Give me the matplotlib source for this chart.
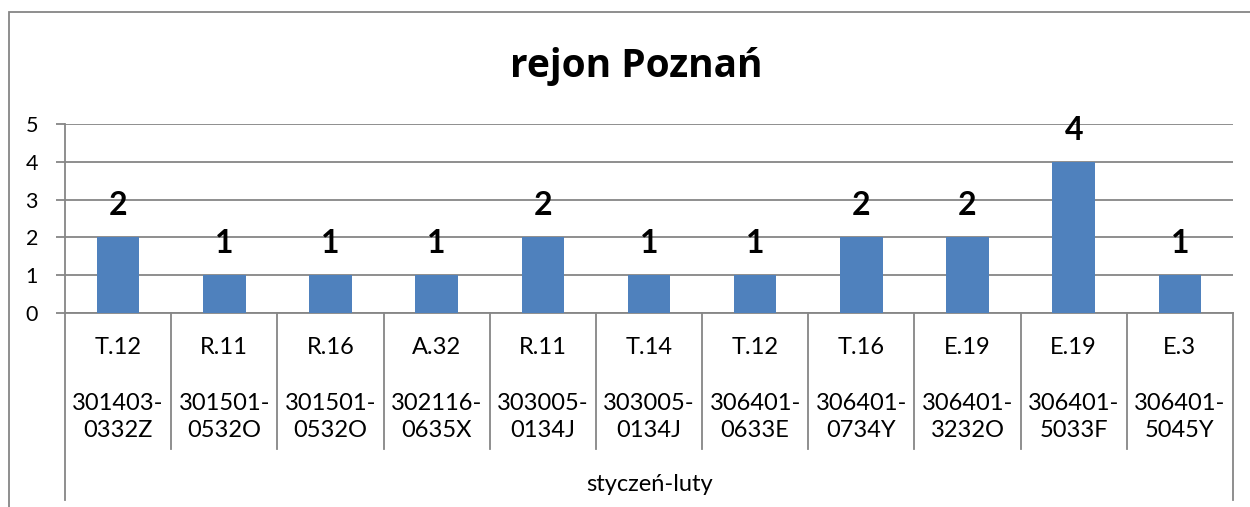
import matplotlib.pyplot as plt
from matplotlib.patches import Rectangle

plt.rcParams['font.family'] = ['Lato', 'DejaVu Sans']

# data
codes = ["T.12", "R.11", "R.16", "A.32", "R.11", "T.14", "T.12", "T.16", "E.19", "E.19", "E.3"]
ids = ["301403-\n0332Z", "301501-\n0532O", "301501-\n0532O", "302116-\n0635X", "303005-\n0134J",
       "303005-\n0134J", "306401-\n0633E", "306401-\n0734Y", "306401-\n3232O", "306401-\n5033F",
       "306401-\n5045Y"]
values = [2, 1, 1, 1, 2, 1, 1, 2, 2, 4, 1]
period = "styczeń-luty"
title = "rejon Poznań"

W, H = 1250, 507
fig = plt.figure(figsize=(W / 100, H / 100), dpi=100)

# plot area in pixels
px_left, px_right, px_top, px_bottom = 65, 1233, 124, 313
ax = fig.add_axes([px_left / W, 1 - px_bottom / H, (px_right - px_left) / W, (px_bottom - px_top) / H])

grid_col = "#868686"
x = list(range(len(values)))
ax.bar(x, values, width=0.4, color="#4F81BD", zorder=3)
ax.set_xlim(-0.5, len(values) - 0.5)
ax.set_ylim(0, 5)
ax.set_yticks(range(6))
ax.yaxis.grid(True, color=grid_col, lw=1.3, zorder=0)
ax.tick_params(axis='y', length=6.5, width=1.3, color=grid_col, labelsize=15.5, pad=13)
ax.tick_params(axis='x', bottom=False, labelbottom=False)
for s in ["top", "right"]:
    ax.spines[s].set_visible(False)
ax.spines["left"].set_color(grid_col)
ax.spines["left"].set_linewidth(1.3)
ax.spines["bottom"].set_color(grid_col)
ax.spines["bottom"].set_linewidth(1.3)

# data labels
for xi, v in zip(x, values):
    ax.annotate(str(v), (xi, v), xytext=(0, 22), textcoords="offset pixels",
                ha="center", va="baseline", fontsize=23, fontweight="bold")

# multi-level category axis
ph = px_bottom - px_top
def ay(py):
    return (px_bottom - py) / ph

tr = ax.get_xaxis_transform()
for xi, c, i in zip(x, codes, ids):
    ax.text(xi, ay(348), c, transform=tr, ha="center", va="center", fontsize=17)
    ax.text(xi, ay(417), i, transform=tr, ha="center", va="center", fontsize=17,
            linespacing=1.3)
for k in range(1, len(values)):
    ax.plot([k - 0.5, k - 0.5], [0, ay(449)], transform=tr, color=grid_col, lw=1.3, clip_on=False)
for xe in [-0.5, len(values) - 0.5]:
    ax.plot([xe, xe], [0, ay(500)], transform=tr, color=grid_col, lw=1.3, clip_on=False)
ax.text((len(values) - 1) / 2, ay(484), period, transform=tr, ha="center", va="center", fontsize=17)

fig.text(636 / W, 1 - 77 / H, title, ha="center", va="baseline", fontsize=28, fontweight="bold",
         family=["Open Sans", "DejaVu Sans"])

# chart border
fig.patches.append(Rectangle((9 / W, -0.1), 1.2, 1 - 12 / H + 0.1, transform=fig.transFigure,
                             fill=False, ec=grid_col, lw=1.3))

fig.savefig("out.png", dpi=100)
